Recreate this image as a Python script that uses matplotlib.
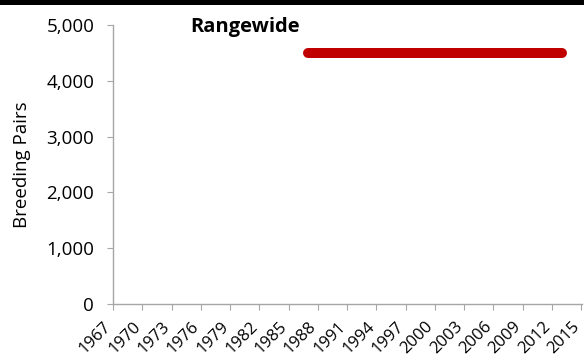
import matplotlib
matplotlib.use("Agg")
import matplotlib.pyplot as plt
import matplotlib.transforms as mtransforms
from matplotlib.patches import Rectangle
from matplotlib.ticker import FuncFormatter

years = list(range(1987, 2014))
pairs = [4500] * len(years)
tick_years = list(range(1967, 2016, 3))
y_ticks = [0, 1000, 2000, 3000, 4000, 5000]
title = "Rangewide"
ylabel = "Breeding Pairs"

plt.rcParams['font.family'] = ['Open Sans', 'DejaVu Sans']

fig = plt.figure(figsize=(5.84, 3.56), dpi=100)
fig.add_artist(Rectangle((0, 1 - 5/356), 1, 5/356, transform=fig.transFigure,
                         facecolor='black', edgecolor='none'))
ax = fig.add_axes([113/584, 1 - 304/356, (582 - 113)/584, (304 - 25)/356])

ax.plot(years, pairs, color='#C00000', linewidth=7.2, solid_capstyle='round')

ax.set_xlim(1967, 2015.1)
ax.set_ylim(0, 5000)
ax.set_xticks(tick_years)
ax.set_xticklabels([])
lab_tr = mtransforms.offset_copy(ax.get_xaxis_transform(), fig=fig, x=-4, y=-20, units='dots')
for yr in tick_years:
    ax.text(yr, 0, str(yr), transform=lab_tr, rotation=45, ha='right', va='center',
            rotation_mode='anchor', fontsize=12, clip_on=False)
ax.set_yticks(y_ticks)
ax.yaxis.set_major_formatter(FuncFormatter(lambda v, p: f"{int(v):,}"))
ax.tick_params(axis='y', labelsize=13.5, length=4.5, color='#a6a6a6', pad=9)
ax.tick_params(axis='x', length=4.5, color='#a6a6a6')
for s in ['top', 'right']:
    ax.spines[s].set_visible(False)
for s in ['left', 'bottom']:
    ax.spines[s].set_color('#a6a6a6')
    ax.spines[s].set_linewidth(1)
ax.set_ylabel(ylabel, fontsize=13.5, labelpad=11)
fig.text(190/584, 1 - 32/356, title, fontsize=14.5, fontweight='bold', va='baseline', ha='left')

fig.savefig('out.png', dpi=100)
